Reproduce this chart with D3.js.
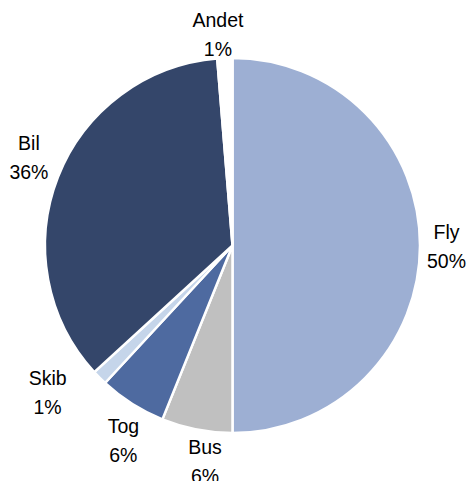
<!DOCTYPE html>
<html>
<head>
<meta charset="utf-8">
<script src="https://cdn.jsdelivr.net/npm/d3@7"></script>
<style>
  body { margin: 0; background: #fff; }
  text { font-family: "Liberation Sans", Arial, sans-serif; font-size: 19.5px; fill: #000; }
</style>
</head>
<body>
<div id="chart"></div>
<script>
var categories = ["Fly", "Bus", "Tog", "Skib", "Bil", "Andet"];
var values = [50.0, 6.1, 5.8, 1.3, 35.5, 1.3];
var labels = ["50%", "6%", "6%", "1%", "36%", "1%"];
var colors = ["#9dafd3", "#c0c0c0", "#4e6aa0", "#c5d5ea", "#34466a", "#ffffff"];
// label placement tweaks (angle shift in degrees, radius in px)
var labelShift = [0, -3.7, -3.1, 6.4, 2.1, -1.6];
var labelRadius = [214, 217, 223, 236, 222, 212];

var width = 467, height = 481;
var cx = 232.5, cy = 245.5, r = 187.5;

var svg = d3.select("#chart").append("svg")
    .attr("width", width)
    .attr("height", height);

var data = categories.map(function (c, i) {
    return { name: c, value: values[i], label: labels[i], color: colors[i],
             shift: labelShift[i], lr: labelRadius[i] };
});

var pie = d3.pie().sort(null).value(function (d) { return d.value; });
var arcs = pie(data);

var arc = d3.arc().innerRadius(0).outerRadius(r);

var g = svg.append("g").attr("transform", "translate(" + cx + "," + cy + ")");

g.selectAll("path")
    .data(arcs)
    .enter()
    .append("path")
    .attr("d", arc)
    .attr("fill", function (d) { return d.data.color; })
    .attr("stroke", "#fff")
    .attr("stroke-width", 2.5);

var lbl = g.selectAll(".lbl")
    .data(arcs)
    .enter()
    .append("text")
    .attr("class", "lbl")
    .attr("text-anchor", "middle")
    .attr("transform", function (d) {
        var a = (d.startAngle + d.endAngle) / 2 + d.data.shift * Math.PI / 180;
        var x = Math.sin(a) * d.data.lr, y = -Math.cos(a) * d.data.lr;
        return "translate(" + x + "," + y + ")";
    });

lbl.append("tspan").attr("x", 0).attr("y", -7).text(function (d) { return d.data.name; });
lbl.append("tspan").attr("x", 0).attr("y", 22).text(function (d) { return d.data.label; });
</script>
</body>
</html>
